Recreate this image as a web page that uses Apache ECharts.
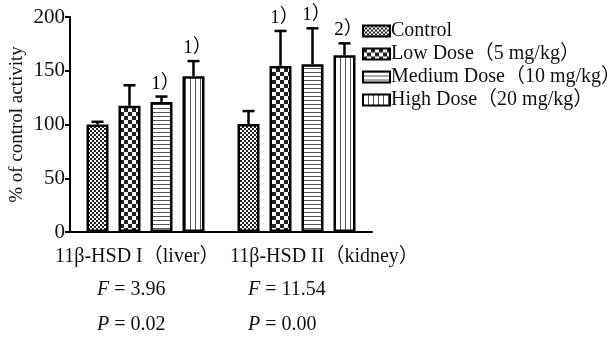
<!DOCTYPE html>
<html>
<head>
<meta charset="utf-8">
<script src="https://cdn.jsdelivr.net/npm/echarts@6/dist/echarts.min.js"></script>
<style>
  html, body { margin: 0; padding: 0; background: #fff; }
  #chart { width: 610px; height: 339px; }
</style>
</head>
<body>
<div id="chart"></div>
<script>
// data
const categories = ["11β-HSD I（liver）", "11β-HSD II（kidney）"];
const groupNames = ["Control", "Low Dose（5 mg/kg）", "Medium Dose（10 mg/kg）", "High Dose（20 mg/kg）"];
const means      = [[100, 100.5], [117.5, 154.5], [121, 156], [145, 164.5]];
const sds        = [[2.5, 12], [19, 32.5], [5, 33.5], [14, 11]];
const marks      = [["", ""], ["", "1）"], ["1）", "1）"], ["1）", "2）"]];
const fStats     = ["3.96", "11.54"];
const pStats     = ["0.02", "0.00"];
const yTicks     = [0, 50, 100, 150, 200];

const SERIF = "'Liberation Serif', 'DejaVu Serif', 'Noto Sans CJK SC', serif";
const BAR_W = 22, BAR_GAP = 10;

// fill patterns drawn on small canvases
function makePattern(kind) {
  const c = document.createElement("canvas");
  const ctx = c.getContext("2d");
  const sz = { fine: 4, check: 8, hline: 4, vline: 5 }[kind];
  c.width = c.height = sz;
  ctx.fillStyle = "#fff"; ctx.fillRect(0, 0, sz, sz);
  ctx.fillStyle = "#222";
  if (kind === "fine")  { ctx.fillRect(0, 0, 2, 2); ctx.fillRect(2, 2, 2, 2); }
  if (kind === "check") { ctx.fillRect(0, 0, 4, 4); ctx.fillRect(4, 4, 4, 4); }
  if (kind === "hline") { ctx.fillStyle = "#555"; ctx.fillRect(0, 0, sz, 1); }
  if (kind === "vline") { ctx.fillStyle = "#555"; ctx.fillRect(0, 0, 1, sz); }
  return { image: c, repeat: "repeat" };
}
const patterns = ["fine", "check", "hline", "vline"].map(makePattern);

const barSeries = groupNames.map((name, i) => ({
  name, type: "bar",
  data: means[i],
  barWidth: BAR_W,
  barGap: (BAR_GAP / BAR_W * 100) + "%",
  itemStyle: { color: patterns[i], borderColor: "#000", borderWidth: 2.5 },
  z: 3,
}));

// upper error bar + significance mark, one custom series per group
const errSeries = groupNames.map((name, i) => ({
  type: "custom",
  name: name + "_err",
  data: means[i].map((m, k) => [k, m, m + sds[i][k]]),
  z: 2,
  renderItem: (params, api) => {
    const off = (i - 1.5) * (BAR_W + BAR_GAP);
    const base = api.coord([api.value(0), api.value(1)]);
    const top  = api.coord([api.value(0), api.value(2)]);
    const x = base[0] + off;
    const label = marks[i][params.dataIndex];
    const kids = [
      { type: "line", shape: { x1: x, y1: base[1], x2: x, y2: top[1] },
        style: { stroke: "#000", lineWidth: 2.5 } },
      { type: "line", shape: { x1: x - 6, y1: top[1], x2: x + 6, y2: top[1] },
        style: { stroke: "#000", lineWidth: 2.5 } },
    ];
    if (label) kids.push({
      type: "text",
      style: { text: label, x: x + 4, y: top[1] - 13, align: "center", verticalAlign: "middle",
               font: "19px " + SERIF, fill: "#000" },
    });
    return { type: "group", children: kids };
  },
}));

const statText = (t, left, top) => ({
  type: "text", left, top,
  style: { text: t, font: "20px " + SERIF, fill: "#111",
           rich: { i: { fontStyle: "italic", fontSize: 20, fontFamily: SERIF } } },
});

const chart = echarts.init(document.getElementById("chart"));
chart.setOption({
  backgroundColor: "#fff",
  animation: false,
  grid: { left: 70, right: 238, top: 17, bottom: 107 },
  legend: {
    data: groupNames,
    orient: "vertical", left: 357, top: 16,
    itemWidth: 27, itemHeight: 11, itemGap: 3,
    icon: "rect",
    textStyle: { fontFamily: SERIF, fontSize: 20, color: "#111", padding: [0, 0, 0, -4] },
  },
  xAxis: {
    type: "category", data: categories,
    axisLine: { lineStyle: { color: "#000", width: 2 } },
    axisTick: { alignWithLabel: true, length: 5, lineStyle: { color: "#000", width: 2 } },
    axisLabel: { show: false },
  },
  yAxis: {
    type: "value", min: yTicks[0], max: yTicks[yTicks.length - 1], interval: 50,
    name: "% of control activity", nameLocation: "middle", nameGap: 43,
    nameTextStyle: { fontFamily: SERIF, fontSize: 19, color: "#111" },
    axisLine: { show: true, lineStyle: { color: "#000", width: 2 } },
    axisTick: { show: true, length: 5, lineStyle: { color: "#000", width: 2 } },
    axisLabel: { fontFamily: SERIF, fontSize: 21, color: "#111", margin: 5 },
    splitLine: { show: false },
  },
  series: [...barSeries, ...errSeries],
  graphic: [
    { type: "text", left: 55, top: 247, style: { text: categories[0], font: "20px " + SERIF, fill: "#111" } },
    { type: "text", left: 230, top: 247, style: { text: categories[1], font: "20px " + SERIF, fill: "#111" } },
    statText("{i|F} = " + fStats[0], 97, 280),
    statText("{i|F} = " + fStats[1], 248, 280),
    statText("{i|P} = " + pStats[0], 97, 315),
    statText("{i|P} = " + pStats[1], 248, 315),
  ],
});
</script>
</body>
</html>
